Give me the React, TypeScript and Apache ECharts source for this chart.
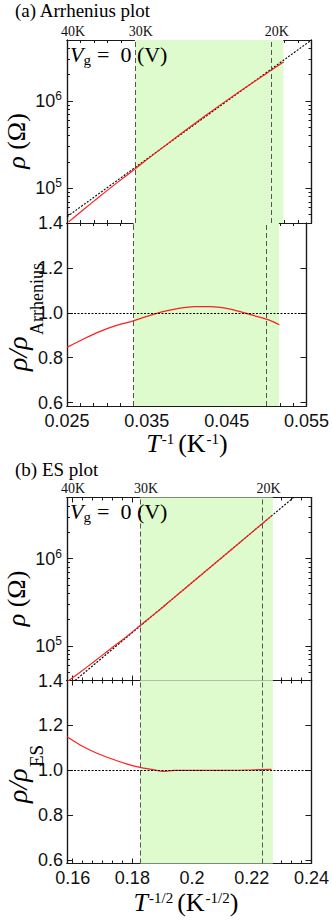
import { useEffect, useRef } from 'react';
import * as echarts from 'echarts';

// ---------------- data ----------------
const markTempsK = [40, 30, 20];
const markTempLabels = ['40K', '30K', '20K'];
const dashedTempsK = [30, 20];
const fitWindowK = [30, 19.4];

const rhoRange = [4e4, 5e6];
const rhoTicks = [1e5, 1e6];
const rhoTickExps = ['5', '6'];
const ratioRange = [0.585, 1.4];
const ratioTicks = [0.6, 0.8, 1.0, 1.2, 1.4];
const ratioTickLabels = ['0.6', '0.8', '1.0', '1.2', '1.4'];

// (a) Arrhenius plot, x = 1/T
const aXRange = [0.025, 0.055];
const aXTicks = [0.025, 0.035, 0.045, 0.055];
const aXTickLabels = ['0.025', '0.035', '0.045', '0.055'];
const aRhoX = [0.0252, 0.027, 0.029, 0.031, 0.0333, 0.035, 0.037, 0.039, 0.041, 0.043, 0.045, 0.047, 0.049, 0.0505, 0.0516];
const aRho = [4.12e4, 5.68e4, 8.04e4, 1.13e5, 1.65e5, 2.2e5, 3.06e5, 4.24e5, 5.83e5, 7.96e5, 1.078e6, 1.445e6, 1.93e6, 2.4e6, 2.79e6];
const aFitX = [0.025, 0.055];
const aFitRho = [4.72e4, 5.0e6];
const aRatioX = [0.025, 0.027, 0.029, 0.031, 0.0333, 0.035, 0.037, 0.039, 0.041, 0.043, 0.045, 0.047, 0.049, 0.0505, 0.0516];
const aRatio = [0.846, 0.882, 0.915, 0.942, 0.964, 0.984, 1.005, 1.02, 1.028, 1.028, 1.02, 1.002, 0.982, 0.965, 0.947];

// (b) ES plot, x = T^-1/2
const bXRange = [0.1581, 0.24];
const bXTicks = [0.16, 0.18, 0.2, 0.22, 0.24];
const bXTickLabels = ['0.16', '0.18', '0.2', '0.22', '0.24'];
const bRhoX = [0.1585, 0.1625, 0.167, 0.1725, 0.178, 0.1826, 0.187, 0.1903, 0.194, 0.2, 0.21, 0.22, 0.2266];
const bRho = [3.95e4, 4.98e4, 6.52e4, 9.12e4, 1.271e5, 1.707e5, 2.26e5, 2.786e5, 3.574e5, 5.31e5, 1.027e6, 1.991e6, 3.08e6];
const bFitX = [0.1581, 0.24];
const bFitRho = [3.35e4, 7.43e6];
const bRatioX = [0.1581, 0.1625, 0.167, 0.1725, 0.178, 0.1826, 0.187, 0.1903, 0.194, 0.2, 0.21, 0.22, 0.2266];
const bRatio = [1.149, 1.113, 1.083, 1.054, 1.029, 1.013, 1.003, 0.995, 1.0, 1.0, 1.0, 1.002, 1.004];

// ---------------- styling ----------------
const SANS = '"Liberation Sans", Arial, sans-serif';
const SERIF = '"Liberation Serif", "Times New Roman", serif';
const AX = '#1a1a1a';
const RED = '#ff1f1f';
const GREEN = '#ddfbcc';
const LEFT = 67;
const WIDTH = 244.5;

const zip = (xs: number[], ys: number[]) => xs.map((x, i) => [x, ys[i]]);
const lookup = (ticks: number[], labels: string[]) => (v: number) => {
  const i = ticks.findIndex((t) => Math.abs(t - v) <= Math.abs(t) * 1e-6 + 1e-12);
  return i >= 0 ? labels[i] : '';
};
const stepList = (start: number, end: number, step: number) => {
  const out: number[] = [];
  const n = Math.round((end - start) / step);
  for (let k = 0; k <= n; k++) out.push(+(start + k * step).toFixed(10));
  return out;
};
const logMinor = () => {
  const out: number[] = [];
  for (let d = 4; d <= 6; d++) for (let m = 1; m <= 9; m++) out.push(m * Math.pow(10, d));
  return out;
};

const panels = [
  {
    top: 40,
    xRange: aXRange, xTicks: aXTicks, xTickLabels: aXTickLabels,
    minorStart: 0.025, minorStep: 0.01 / 6,
    tToX: (t: number) => 1 / t,
    rhoX: aRhoX, rho: aRho, fitX: aFitX, fitRho: aFitRho, ratioX: aRatioX, ratio: aRatio,
    title: '(a) Arrhenius plot', titleY: 10.5,
    xTitle: '{i|T}{s|-1}{sp|}{n|(K}{s|-1}{n|)}', xTitleX: 187, xTitleY: 443,
    sub: 'Arrhenius', subSize: 18, mainStart: 371, subStart: 335,
  },
  {
    top: 497.5,
    xRange: bXRange, xTicks: bXTicks, xTickLabels: bXTickLabels,
    minorStart: 0.16 - 0.02, minorStep: 0.02 / 6,
    tToX: (t: number) => 1 / Math.sqrt(t),
    rhoX: bRhoX, rho: bRho, fitX: bFitX, fitRho: bFitRho, ratioX: bRatioX, ratio: bRatio,
    title: '(b) ES plot', titleY: 469.6,
    xTitle: '{i|T}{s|-1/2}{sp|}{n|(K}{s|-1/2}{n|)}', xTitleX: 186, xTitleY: 902,
    sub: 'ES', subSize: 19, mainStart: 803, subStart: 767,
  },
];

function buildOption() {
  const grid: any[] = [];
  const xAxis: any[] = [];
  const yAxis: any[] = [];
  const series: any[] = [];
  const graphic: any[] = [];

  const axisLine = { show: true, onZero: false, lineStyle: { color: AX, width: 1.2 } };
  const tick = (ticks: number[], len: number) => ({
    show: true, inside: true, length: len, customValues: ticks, lineStyle: { color: AX, width: 1 },
  });

  const addX = (g: number, xr: number[], majors: number[], minors: number[], bottomLabel: any, topLabel: any) => {
    const base = (position: string, ticks: number[], len: number, label: any) => ({
      type: 'value', gridIndex: g, position, min: xr[0], max: xr[1],
      axisLine, axisTick: tick(ticks, len),
      axisLabel: label || { show: false },
      splitLine: { show: false },
    });
    xAxis.push(base('bottom', majors, 5, bottomLabel), base('bottom', minors, 3, null),
      base('top', majors, 5, topLabel), base('top', minors, 3, null));
  };
  const addY = (g: number, type: string, yr: number[], majors: number[], minors: number[], label: any) => {
    const base = (position: string, ticks: number[], len: number, lab: any) => ({
      type, gridIndex: g, position, min: yr[0], max: yr[1],
      ...(type === 'log' ? { logBase: 10 } : {}),
      axisLine, axisTick: tick(ticks, len),
      axisLabel: lab || { show: false },
      splitLine: { show: false },
    });
    yAxis.push(base('left', majors, 6, label), base('left', minors, 3, null),
      base('right', majors, 6, null), base('right', minors, 3, null));
  };

  const rhoLabel = {
    show: true, customValues: rhoTicks, margin: 5,
    formatter: (v: number) => `{m|10}{e|${lookup(rhoTicks, rhoTickExps)(v)}}`,
    rich: {
      m: { fontFamily: SANS, fontSize: 18, color: '#111', lineHeight: 22, verticalAlign: 'middle' },
      e: { fontFamily: SANS, fontSize: 12, color: '#111', verticalAlign: 'top', lineHeight: 14 },
    },
  };
  const ratioLabel = {
    show: true, customValues: ratioTicks, margin: 4,
    formatter: lookup(ratioTicks, ratioTickLabels),
    fontFamily: SANS, fontSize: 18, color: '#111',
  };

  const txt = (x: number, y: number, style: any, rotation = 0) => ({
    type: 'text', x, y, rotation, z: 100, silent: true,
    style: { fill: '#000', verticalAlign: 'middle', align: 'left', ...style },
  });

  panels.forEach((p, pi) => {
    const gTop = pi * 2;
    const gBot = pi * 2 + 1;
    grid.push({ left: LEFT, top: p.top, width: WIDTH, height: 183 });
    grid.push({ left: LEFT, top: p.top + 183, width: WIDTH, height: 183 });

    const minors = stepList(p.minorStart, p.xRange[1] + 0.0001, p.minorStep);
    const kPos = markTempsK.map(p.tToX);
    const kLabel = {
      show: true, customValues: kPos, formatter: lookup(kPos, markTempLabels),
      fontFamily: SERIF, fontSize: 14, color: '#111', margin: 2, padding: [0, 0, 0, 12],
    };
    const xLabel = {
      show: true, customValues: p.xTicks, formatter: lookup(p.xTicks, p.xTickLabels),
      fontFamily: SANS, fontSize: 18, lineHeight: 16, color: '#111', margin: 6.5,
    };
    addX(gTop, p.xRange, p.xTicks, minors, null, kLabel);
    addX(gBot, p.xRange, p.xTicks, minors, xLabel, null);
    addY(gTop, 'log', rhoRange, rhoTicks, logMinor(), rhoLabel);
    addY(gBot, 'value', ratioRange, ratioTicks, [], ratioLabel);

    const area = {
      silent: true, z: 1, itemStyle: { color: GREEN },
      data: [[{ xAxis: p.tToX(fitWindowK[0]) }, { xAxis: p.tToX(fitWindowK[1]) }]],
    };
    const vLines = dashedTempsK.map((t) => ({ xAxis: p.tToX(t) }));
    const vStyle = { color: '#555', type: [5, 3], width: 1 };

    // top: rho vs x
    series.push({
      type: 'line', xAxisIndex: gTop * 4, yAxisIndex: gTop * 4, z: 2,
      data: zip(p.fitX, p.fitRho), symbol: 'none', silent: true,
      lineStyle: { color: '#000', width: 1.1, type: [2, 1.5] },
      markArea: area,
      markLine: { silent: true, precision: 10, symbol: ['none', 'none'], label: { show: false }, lineStyle: vStyle, data: vLines },
    });
    series.push({
      type: 'line', xAxisIndex: gTop * 4, yAxisIndex: gTop * 4, z: 3,
      data: zip(p.rhoX, p.rho), symbol: 'none', smooth: 0.3, silent: true,
      lineStyle: { color: RED, width: 1.2 },
    });
    // bottom: ratio
    series.push({
      type: 'line', xAxisIndex: gBot * 4, yAxisIndex: gBot * 4, z: 3,
      data: zip(p.ratioX, p.ratio), symbol: 'none', smooth: 0.3, silent: true,
      lineStyle: { color: RED, width: 1.2 },
      markArea: area,
      markLine: {
        silent: true, precision: 10, symbol: ['none', 'none'], label: { show: false }, lineStyle: vStyle,
        data: [...vLines, { yAxis: 1.0, lineStyle: { color: '#000', type: [2, 1.5], width: 1 } }],
      },
    });

    // texts
    graphic.push(txt(15, p.titleY, { text: p.title, fontFamily: SERIF, fontSize: 19 }));
    graphic.push(txt(70, p.top + 14.3, { text: 'V', fontFamily: SERIF, fontStyle: 'italic', fontSize: 22 }));
    graphic.push(txt(83.5, p.top + 19.9, { text: 'g', fontFamily: SERIF, fontSize: 15 }));
    graphic.push(txt(97, p.top + 14.3, { text: '=\u00a0\u00a00\u00a0(V)', fontFamily: SERIF, fontSize: 22 }));
    graphic.push(txt(16, p.top + 101, {
      text: '{i|ρ}{n|\u00a0(Ω)}', align: 'center',
      rich: {
        i: { fontFamily: SERIF, fontStyle: 'italic', fontSize: 26, fill: '#000' },
        n: { fontFamily: SERIF, fontSize: 26, fill: '#000' },
      },
    }, Math.PI / 2));
    graphic.push(txt(17.5, p.mainStart, { text: 'ρ/ρ', fontFamily: SERIF, fontStyle: 'italic', fontSize: 28 }, Math.PI / 2));
    graphic.push(txt(36.5, p.subStart, { text: p.sub, fontFamily: SERIF, fontSize: p.subSize }, Math.PI / 2));
    graphic.push(txt(p.xTitleX, p.xTitleY, {
      text: p.xTitle, align: 'center',
      rich: {
        i: { fontFamily: SERIF, fontStyle: 'italic', fontSize: 26, lineHeight: 24, verticalAlign: 'middle', fill: '#000' },
        n: { fontFamily: SERIF, fontSize: 26, lineHeight: 24, verticalAlign: 'middle', fill: '#000' },
        s: { fontFamily: SERIF, fontSize: 15, lineHeight: 17, verticalAlign: 'top', padding: [0, 0, 0, 1], fill: '#000' },
        sp: { width: 4 },
      },
    }));
  });

  return { animation: false, backgroundColor: '#fff', grid, xAxis, yAxis, series, graphic };
}

export default function App() {
  const ref = useRef<HTMLDivElement>(null);
  useEffect(() => {
    const chart = echarts.init(ref.current!, null, { renderer: 'svg' });
    chart.setOption(buildOption() as any);
    return () => chart.dispose();
  }, []);
  return (
    <div
      ref={ref}
      style={{ position: 'absolute', left: 0, top: 0, width: 332, height: 921, background: '#fff' }}
    />
  );
}
